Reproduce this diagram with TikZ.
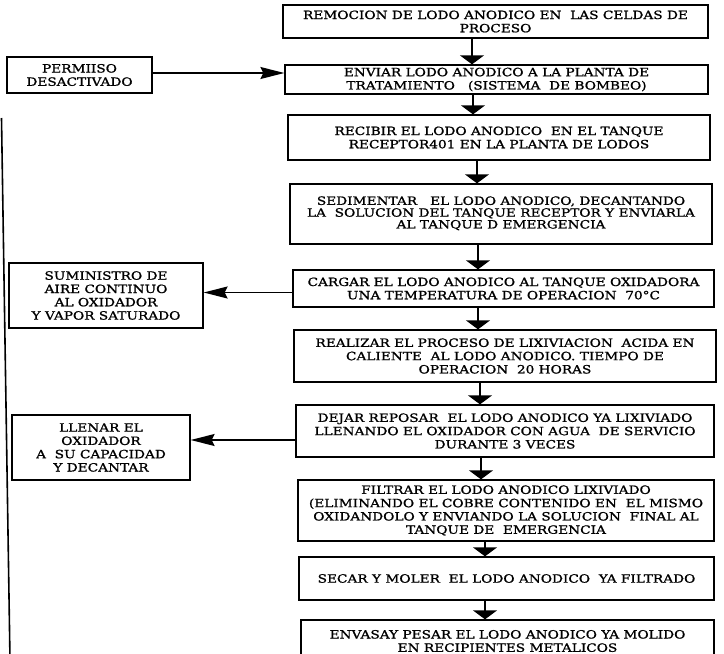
\documentclass[tikz,border=0pt]{standalone}
\usepackage{fontspec}
\setmainfont{DejaVu Serif}[FakeStretch=1.2,FakeBold=1.2]
\usetikzlibrary{arrows.meta}
\begin{document}
\begin{tikzpicture}[x=1pt,y=-1pt,
  box/.style={draw, line width=1.3pt, align=center, inner sep=0pt,
    font=\fontsize{11.4}{13.3}\selectfont},
  down/.style={line width=1.3pt, -{Triangle[length=9pt,width=24pt]}},
  side/.style={line width=1.4pt, -{Stealth[length=24pt,width=12pt,inset=3pt]}}]
\useasboundingbox (0,0) rectangle (724,654);
\fill[white] (0,0) rectangle (724,654);
\clip (0,0) rectangle (724,654);

% main process column
\node[box, minimum width=425pt, minimum height=33pt] (b1) at (495.5,21.5)
  {REMOCION DE LODO ANODICO EN\ \ LAS CELDAS DE\\PROCESO};
\node[box, minimum width=423pt, minimum height=29pt] (b2) at (496.5,79.5)
  {ENVIAR LODO ANODICO A LA PLANTA DE\\TRATAMIENTO\ \ \ (SISTEMA\ \ DE BOMBEO)};
\node[box, minimum width=422pt, minimum height=45pt] (b3) at (499,137.5)
  {RECIBIR EL LODO ANODICO\ \ EN EL TANQUE\\RECEPTOR401 EN LA PLANTA DE LODOS};
\node[box, minimum width=422pt, minimum height=60pt] (b4) at (501,214)
  {\raisebox{3pt}{\begin{tabular}{@{}c@{}}SEDIMENTAR\ \ \ EL LODO ANODICO, DECANTANDO\\[-1.5pt]LA\ \ SOLUCION DEL TANQUE RECEPTOR Y ENVIARLA\\[-1.5pt]AL TANQUE D EMERGENCIA\end{tabular}}};
\node[box, minimum width=421pt, minimum height=37pt] (b5) at (503.5,288.5)
  {CARGAR EL LODO ANODICO AL TANQUE OXIDADORA\\UNA TEMPERATURA DE OPERACION\ \ 70°C};
\node[box, minimum width=422pt, minimum height=52pt] (b6) at (505,356)
  {REALIZAR EL PROCESO DE LIXIVIACION\ \ ACIDA EN\\CALIENTE\ \ AL LODO ANODICO. TIEMPO DE\\OPERACION\ \ 20 HORAS};
\node[box, minimum width=418pt, minimum height=52pt] (b7) at (505,431)
  {DEJAR REPOSAR\ \ EL LODO ANODICO YA LIXIVIADO\\LLENANDO EL OXIDADOR CON AGUA\ \ DE SERVICIO\\DURANTE 3 VECES};
\node[box, minimum width=416pt, minimum height=61pt] (b8) at (506,510.5)
  {FILTRAR EL LODO ANODICO LIXIVIADO\\(ELIMINANDO EL COBRE CONTENIDO EN\ \ EL MISMO\\OXIDANDOLO Y ENVIANDO LA SOLUCION\ \ FINAL AL\\TANQUE DE\ \ EMERGENCIA};
\node[box, minimum width=415pt, minimum height=43pt] (b9) at (506.5,578.5)
  {SECAR Y MOLER\ \ EL LODO ANODICO\ \ YA FILTRADO};
\node[box, minimum width=413pt, minimum height=42pt] (b10) at (507.5,641)
  {ENVASAY PESAR EL LODO ANODICO YA MOLIDO\\EN RECIPIENTES METALICOS};

% side boxes
\node[box, minimum width=145pt, minimum height=36pt] (perm) at (79.5,75)
  {PERMIISO\\DESACTIVADO};
\node[box, minimum width=194pt, minimum height=65pt] (sum) at (106,295.5)
  {SUMINISTRO DE\\AIRE CONTINUO\\AL OXIDADOR\\Y VAPOR SATURADO};
\node[box, minimum width=178pt, minimum height=65pt] (llen) at (101,447.5)
  {LLENAR EL\\OXIDADOR\\A\ \ SU CAPACIDAD\\Y DECANTAR};

% flow arrows down the column
\draw[down] ([xshift=-23.5pt]b1.south) -- ([xshift=-24.5pt]b2.north);
\draw[down] ([xshift=-23.5pt]b2.south) -- ([xshift=-26pt]b3.north);
\draw[down] ([xshift=-22pt]b3.south) -- ([xshift=-24pt]b4.north);
\draw[down] ([xshift=-23pt]b4.south) -- ([xshift=-25.5pt]b5.north);
\draw[down] ([xshift=-25.5pt]b5.south) -- ([xshift=-27pt]b6.north);
\draw[down] ([xshift=-25pt]b6.south) -- ([xshift=-25pt]b7.north);
\draw[down] ([xshift=-24pt]b7.south) -- ([xshift=-25pt]b8.north);
\draw[down] ([xshift=-21pt]b8.south) -- ([xshift=-21.5pt]b9.north);
\draw[down] ([xshift=-21.5pt]b9.south) -- ([xshift=-22.5pt]b10.north);

% side connections
\coordinate (p2) at ([yshift=2pt]perm.east);
\draw[side] (p2) -- (p2 -| b2.west);
\coordinate (c5) at ([yshift=-4pt]b5.west);
\draw[side] (c5) -- (c5 -| sum.east);
\coordinate (c7) at ([yshift=-9pt]b7.west);
\draw[side] (c7) -- (c7 -| llen.east);

% return line along the left margin
\coordinate (vt) at (1.5,118);
\coordinate (vb) at (10,660);
\draw[line width=1.6pt] (vt) -- (vb);
\end{tikzpicture}
\end{document}
